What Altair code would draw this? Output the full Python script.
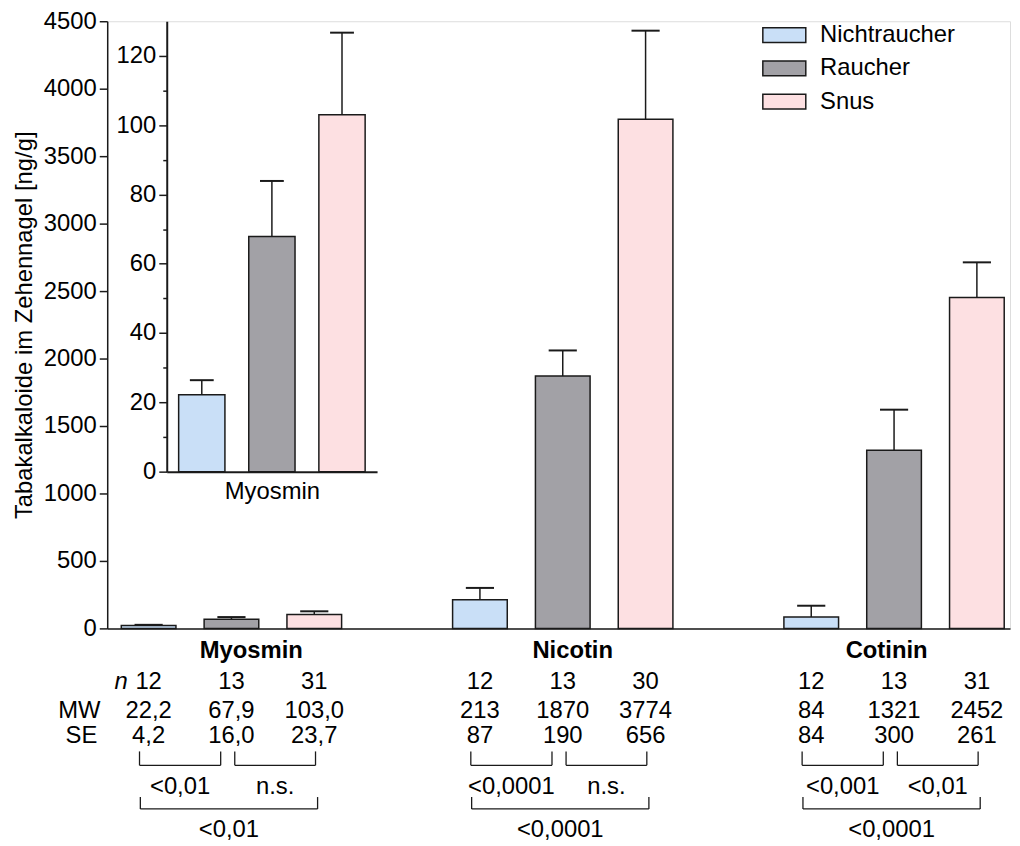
import altair as alt
import pandas as pd

# ---------------- data ----------------
groups = ["Myosmin", "Nicotin", "Cotinin"]
series = ["Nichtraucher", "Raucher", "Snus"]
colors = ["#c9dff7", "#a2a1a6", "#fde0e2"]

myosmin_mw = [22.2, 67.9, 103.0]
myosmin_se = [4.2, 16.0, 23.7]
myosmin_n = [12, 13, 31]
nicotin_mw = [213, 1870, 3774]
nicotin_se = [87, 190, 656]
nicotin_n = [12, 13, 30]
cotinin_mw = [84, 1321, 2452]
cotinin_se = [84, 300, 261]
cotinin_n = [12, 13, 31]

p_first = ["<0,01", "<0,0001", "<0,001"]
p_second = ["n.s.", "n.s.", "<0,01"]
p_overall = ["<0,01", "<0,0001", "<0,0001"]

y_ticks = list(range(0, 4501, 500))
inset_ticks = list(range(0, 121, 10))
decimals = [1, 0, 0]

# ---------------- styling / layout ----------------
FONT = "Liberation Sans"
FS = 24
INK = "#1a1a1a"
label_shift = [0.24, 0.12, -0.09]


def fmt(v, d):
    return f"{v:.{d}f}".replace(".", ",")


mw_all = [myosmin_mw, nicotin_mw, cotinin_mw]
se_all = [myosmin_se, nicotin_se, cotinin_se]
n_all = [myosmin_n, nicotin_n, cotinin_n]

rows = []
for gi, g in enumerate(groups):
    for si, s in enumerate(series):
        pos = gi * 4 + si + 1
        m, e = mw_all[gi][si], se_all[gi][si]
        rows.append(dict(group=g, series=s, pos=pos, left=pos - 0.33, right=pos + 0.33,
                         capl=pos - 0.17, capr=pos + 0.17, mw=m, top=m + e, base=0,
                         n=str(n_all[gi][si]), mw_txt=fmt(m, decimals[gi]),
                         se_txt=fmt(e, decimals[gi])))
df = pd.DataFrame(rows)
df_inset = df[df["group"] == "Myosmin"].copy()

glab = pd.DataFrame({"group": groups,
                     "pos": [gi * 4 + 2 + label_shift[gi] for gi in range(3)]})

br_small, br_big, br_ends_small, br_ends_big = [], [], [], []
p_small, p_big = [], []
for gi in range(3):
    b = gi * 4 + 1
    segs = [(b - 0.11, b + 1 - 0.13, p_first[gi]), (b + 1 + 0.04, b + 2 + 0.015, p_second[gi])]
    for a, c, t in segs:
        br_small.append(dict(x1=a, x2=c))
        br_ends_small += [dict(xv=a), dict(xv=c)]
        p_small.append(dict(xm=(a + c) / 2, p=t))
    a, c = b - 0.10, b + 2 + 0.04
    br_big.append(dict(x1=a, x2=c))
    br_ends_big += [dict(xv=a), dict(xv=c)]
    p_big.append(dict(xm=(a + c) / 2, p=p_overall[gi]))
br_small = pd.DataFrame(br_small)
br_big = pd.DataFrame(br_big)
br_ends_small = pd.DataFrame(br_ends_small)
br_ends_big = pd.DataFrame(br_ends_big)
p_small = pd.DataFrame(p_small)
p_big = pd.DataFrame(p_big)

# ---------------- scales / axes ----------------
xscale = alt.Scale(domain=[0.5, 11.4], nice=False, zero=False)
yscale = alt.Scale(domain=[0, 4500], nice=False, zero=True)
xaxis = alt.Axis(orient="bottom", ticks=False, labels=False, title=None, grid=False,
                 domainColor=INK, domainWidth=1.5)
yaxis = alt.Axis(orient="left", values=y_ticks, format="d", grid=False,
                 title="Tabakalkaloide im Zehennagel [ng/g]", titleFont=FONT,
                 titleFontSize=FS, titleFontWeight="normal", titleColor="black",
                 titlePadding=7, labelFont=FONT, labelFontSize=FS, labelColor="black",
                 labelPadding=3, labelOverlap=False, tickSize=8, tickColor=INK,
                 tickWidth=1.5, domainColor=INK, domainWidth=1.5)

ix_scale = alt.Scale(domain=[0.5, 3.5], range=[60, 272], nice=False, zero=False)
iy_scale = alt.Scale(domain=[0, 130], range=[454, 0], nice=False, zero=True)
ix_axis = alt.Axis(orient="bottom", offset=-158, ticks=False, labels=False, grid=False,
                   title="Myosmin", titleFont=FONT, titleFontSize=FS,
                   titleFontWeight="normal", titleColor="black", titlePadding=8,
                   domainColor=INK, domainWidth=2)
iy_axis = alt.Axis(orient="left", offset=-60, values=inset_ticks, format="d", grid=False,
                   title=None, labelFont=FONT, labelFontSize=FS, labelColor="black",
                   labelExpr="datum.value % 20 === 0 ? datum.label : ''",
                   labelOverlap=False, labelPadding=3,
                   tickSize={"condition": {"test": "datum.value % 20 === 0", "value": 8},
                             "value": 4},
                   tickColor=INK, tickWidth=1.5, domainColor=INK, domainWidth=2)

legend = alt.Legend(title=None, orient="none", legendX=655, legendY=2,
                    direction="vertical", symbolType="M-2.887,-1H2.887V1H-2.887Z",
                    symbolSize=225, symbolStrokeColor=INK, symbolStrokeWidth=1.5,
                    symbolOffset=15.5, labelOffset=24, labelFont=FONT, labelFontSize=FS,
                    labelColor="black", rowPadding=9.5, padding=0, symbolOpacity=1)
fill_enc = alt.Fill("series:N", scale=alt.Scale(domain=series, range=colors), legend=legend)


def X(field):
    return alt.X(f"{field}:Q", scale=xscale, axis=xaxis)


# ---------------- main chart ----------------
bars = alt.Chart(df).mark_rect(stroke=INK, strokeWidth=1.5).encode(
    x=X("left"), x2="right:Q",
    y=alt.Y("mw:Q", scale=yscale, axis=yaxis), y2="base:Q", fill=fill_enc)
whisk = alt.Chart(df).mark_rule(color=INK, strokeWidth=1.5).encode(
    x=X("pos"), y=alt.Y("mw:Q", scale=yscale, axis=yaxis), y2="top:Q")
caps = alt.Chart(df).mark_rule(color=INK, strokeWidth=2).encode(
    x=X("capl"), x2="capr:Q", y=alt.Y("top:Q", scale=yscale, axis=yaxis))


def txt(data, field, y, xfield="pos", weight="normal"):
    return alt.Chart(data).mark_text(font=FONT, fontSize=FS, fontWeight=weight,
                                     baseline="alphabetic", align="center",
                                     color="black").encode(
        x=X(xfield), y=alt.value(y), text=f"{field}:N")


def rowlab(text, x, y, style="normal"):
    return alt.Chart(pd.DataFrame({"t": [text]})).mark_text(
        font=FONT, fontSize=FS, fontStyle=style, baseline="alphabetic", align="center",
        color="black").encode(x=alt.value(x), y=alt.value(y), text="t:N")


# vertical layout of the table (pixels below the plot top)
Y_GROUP, Y_N, Y_MW, Y_SE = 642, 673, 702, 728
Y_SB_TOP, Y_SB, Y_P1 = 736, 750, 779
Y_BB_TOP, Y_BB, Y_P2 = 782, 794, 822

group_labels = txt(glab, "group", Y_GROUP, weight="bold")
n_row = txt(df, "n", Y_N)
mw_row = txt(df, "mw_txt", Y_MW)
se_row = txt(df, "se_txt", Y_SE)
lab_n = rowlab("n", 14, Y_N, style="italic")
lab_mw = rowlab("MW", -28, Y_MW)
lab_se = rowlab("SE", -26, Y_SE)

sh = alt.Chart(br_small).mark_rule(color=INK, strokeWidth=1.3).encode(
    x=X("x1"), x2="x2:Q", y=alt.value(Y_SB))
sv = alt.Chart(br_ends_small).mark_rule(color=INK, strokeWidth=1.3).encode(
    x=X("xv"), y=alt.value(Y_SB_TOP), y2=alt.value(Y_SB))
bh = alt.Chart(br_big).mark_rule(color=INK, strokeWidth=1.3).encode(
    x=X("x1"), x2="x2:Q", y=alt.value(Y_BB))
bv = alt.Chart(br_ends_big).mark_rule(color=INK, strokeWidth=1.3).encode(
    x=X("xv"), y=alt.value(Y_BB_TOP), y2=alt.value(Y_BB))
p1 = txt(p_small, "p", Y_P1, xfield="xm")
p2 = txt(p_big, "p", Y_P2, xfield="xm")

main = alt.layer(bars, whisk, caps, group_labels, n_row, mw_row, se_row,
                 lab_n, lab_mw, lab_se, sh, sv, bh, bv, p1, p2)

# ---------------- inset ----------------
IX = alt.X("left:Q", scale=ix_scale, axis=ix_axis)
ibars = alt.Chart(df_inset).mark_rect(stroke=INK, strokeWidth=1.5).encode(
    x=IX, x2="right:Q",
    y=alt.Y("mw:Q", scale=iy_scale, axis=iy_axis), y2="base:Q", fill=fill_enc)
iwhisk = alt.Chart(df_inset).mark_rule(color=INK, strokeWidth=1.5).encode(
    x=alt.X("pos:Q", scale=ix_scale, axis=ix_axis),
    y=alt.Y("mw:Q", scale=iy_scale, axis=iy_axis), y2="top:Q")
icaps = alt.Chart(df_inset).mark_rule(color=INK, strokeWidth=2).encode(
    x=alt.X("capl:Q", scale=ix_scale, axis=ix_axis), x2="capr:Q",
    y=alt.Y("top:Q", scale=iy_scale, axis=iy_axis))
inset = alt.layer(ibars, iwhisk, icaps)

chart = alt.layer(main, inset).resolve_scale(x="independent", y="independent").properties(
    width=910, height=612,
    autosize=alt.AutoSizeParams(type="none"),
    padding={"left": 100, "top": 10, "right": 2, "bottom": 216},
).configure_view(stroke=None).configure(font=FONT)

chart.save("out.html", embed_options={"renderer": "svg", "actions": False})
